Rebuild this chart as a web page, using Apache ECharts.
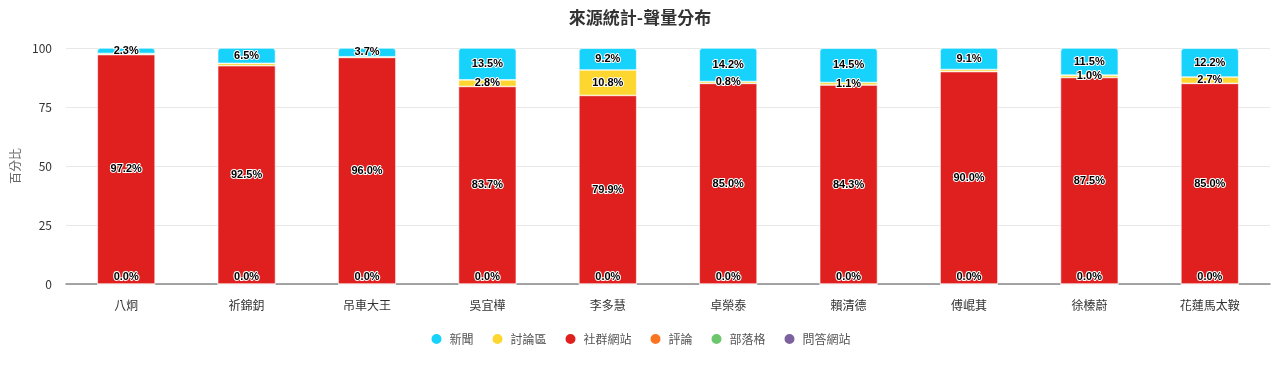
<!DOCTYPE html>
<html>
<head>
<meta charset="utf-8">
<script src="https://cdn.jsdelivr.net/npm/echarts@6/dist/echarts.min.js"></script>
<style>html,body{margin:0;padding:0;background:#fff}#c{width:1280px;height:366px}</style>
</head>
<body>
<div id="c"></div>
<script>
var categories = ['八炯','祈錦鈅','吊車大王','吳宜樺','李多慧','卓榮泰','賴清德','傅崐萁','徐榛蔚','花蓮馬太鞍'];
var news      = [2.3, 6.5, 3.7, 13.5, 9.2, 14.2, 14.5, 9.1, 11.5, 12.2];
var forum     = [0.5, 1.0, 0.3, 2.8, 10.8, 0.8, 1.1, 0.9, 1.0, 2.7];
var social    = [97.2, 92.5, 96.0, 83.7, 79.9, 85.0, 84.3, 90.0, 87.5, 85.0];
var comment   = [0, 0, 0, 0, 0, 0, 0, 0, 0, 0];
var blog      = [0, 0, 0, 0, 0, 0, 0, 0, 0, 0];
var qa        = [0, 0, 0, 0, 0, 0, 0, 0, 0, 0];
var yTicks    = [0, 25, 50, 75, 100];

var FONT = '"Noto Sans CJK TC", "Noto Sans", sans-serif';
var labelBase = {
  show: true,
  position: 'inside',
  color: '#000',
  fontSize: 11,
  fontWeight: 'bold',
  fontFamily: 'Liberation Sans, Arial, sans-serif',
  textBorderColor: '#fff',
  textBorderWidth: 2,
  formatter: function (p) { return p.value.toFixed(1) + '%'; }
};
function mk(name, data, color, extra) {
  var s = {
    name: name, type: 'bar', stack: 'total', data: data, barWidth: '48%',
    itemStyle: { color: color, borderColor: '#fff', borderWidth: 0.6 },
    label: Object.assign({}, labelBase),
    labelLayout: { hideOverlap: true },
    emphasis: { disabled: true }
  };
  if (extra) extra(s);
  return s;
}
var zeroLabel = function (s) { s.label.position = 'insideBottom'; s.label.distance = 2; };
var chart = echarts.init(document.getElementById('c'));
chart.setOption({
  animation: false,
  title: {
    text: '來源統計-聲量分布', left: 'center', top: 4,
    textStyle: { fontFamily: FONT, fontSize: 17, fontWeight: 'bold', color: '#333' }
  },
  legend: {
    bottom: 15, left: 'center', icon: 'circle', itemWidth: 12, itemHeight: 12, itemGap: 17,
    data: ['新聞','討論區','社群網站','評論','部落格','問答網站'],
    textStyle: { fontFamily: FONT, fontSize: 12, color: '#555', padding: [0, 0, 0, 2] }
  },
  grid: { left: 66, right: 10, top: 48, bottom: 82 },
  xAxis: {
    type: 'category', data: categories,
    axisTick: { show: false },
    axisLine: { lineStyle: { color: '#888', width: 1.5 } },
    axisLabel: { fontFamily: FONT, fontSize: 12, color: '#333', margin: 15 }
  },
  yAxis: {
    type: 'value', min: 0, max: 100, interval: 25,
    name: '百分比', nameLocation: 'middle', nameGap: 32, nameRotate: 90,
    nameTextStyle: { fontFamily: FONT, fontSize: 12, color: '#666' },
    axisLabel: { fontFamily: FONT, fontSize: 12, color: '#333', margin: 14,
      formatter: function (v) { return yTicks.indexOf(v) >= 0 ? String(v) : ''; } },
    splitLine: { lineStyle: { color: '#e8e8e8' } }
  },
  series: [
    mk('問答網站', qa, '#7b629f', zeroLabel),
    mk('部落格', blog, '#6cc66c', zeroLabel),
    mk('評論', comment, '#fb7520', zeroLabel),
    mk('社群網站', social, '#e0201e'),
    mk('討論區', forum, '#fdd630'),
    mk('新聞', news, '#17d3fc', function (s) { s.itemStyle.borderRadius = [3, 3, 0, 0]; })
  ]
});
</script>
</body>
</html>
